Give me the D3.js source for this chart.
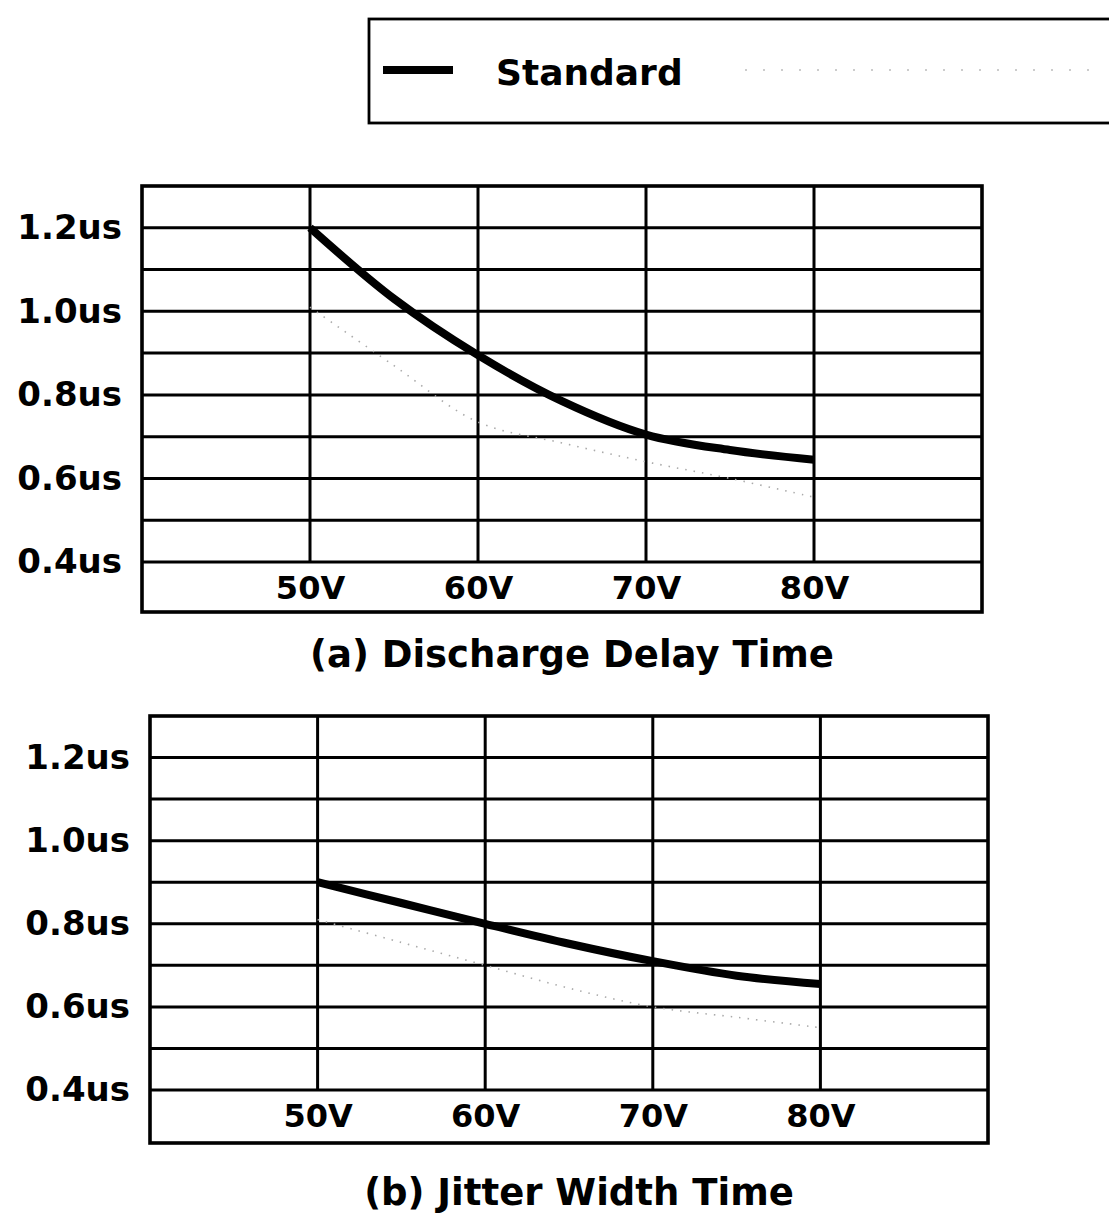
<!DOCTYPE html>
<html>
<head>
<meta charset="utf-8">
<script src="https://cdn.jsdelivr.net/npm/d3@7"></script>
<style>
  body { margin: 0; background: #fff; }
  svg { display: block; }
  text { font-family: "DejaVu Sans", sans-serif; font-weight: bold; fill: #000; }
</style>
</head>
<body>
<div id="chart"></div>
<script>
// values
const voltages = [50, 55, 60, 65, 70, 75, 80];
const delayStandard = [1.2, 1.03, 0.895, 0.785, 0.705, 0.668, 0.645];
const delayFaint = [1.01, 0.87, 0.735, 0.685, 0.64, 0.60, 0.555];
const jitterStandard = [0.9, 0.85, 0.8, 0.752, 0.71, 0.675, 0.655];
const jitterFaint = [0.81, 0.755, 0.70, 0.645, 0.60, 0.575, 0.55];
const xTicks = [50, 60, 70, 80];
const yTicks = [0.4, 0.6, 0.8, 1.0, 1.2];
const yGrid = [0.5, 0.6, 0.7, 0.8, 0.9, 1.0, 1.1, 1.2];
const legendLabels = ["Standard"];
const titles = ["(a) Discharge Delay Time", "(b) Jitter Width Time"];

const width = 1109, height = 1214;

const svg = d3.select("#chart").append("svg")
  .attr("width", width)
  .attr("height", height);

// legend
const legend = svg.append("g");
legend.append("rect")
  .attr("x", 369).attr("y", 19)
  .attr("width", 760).attr("height", 104)
  .attr("fill", "none")
  .attr("stroke", "#000")
  .attr("stroke-width", 2.8);
legend.append("line")
  .attr("x1", 383).attr("x2", 453)
  .attr("y1", 70).attr("y2", 70)
  .attr("stroke", "#000")
  .attr("stroke-width", 8);
legend.append("text")
  .attr("x", 496).attr("y", 85)
  .attr("font-size", 36)
  .text(legendLabels[0]);
legend.append("line")
  .attr("x1", 745).attr("x2", 1090)
  .attr("y1", 70).attr("y2", 70)
  .attr("stroke", "#ccc")
  .attr("stroke-width", 2)
  .attr("stroke-dasharray", "2,16");

function panel(box, std, faint, title, labelX, titleY) {
  const x = d3.scaleLinear().domain([40, 90]).range([box.x0, box.x1]);
  const y = d3.scaleLinear().domain([0.4, 1.3]).range([box.yb, box.y0]);
  const g = svg.append("g");

  // horizontal grid
  g.append("g")
    .selectAll("line")
    .data(yGrid)
    .join("line")
      .attr("x1", box.x0).attr("x2", box.x1)
      .attr("y1", d => y(d)).attr("y2", d => y(d))
      .attr("stroke", "#000")
      .attr("stroke-width", 3);

  // bottom line of the plot (0.4)
  g.append("line")
    .attr("x1", box.x0).attr("x2", box.x1)
    .attr("y1", y(0.4)).attr("y2", y(0.4))
    .attr("stroke", "#000")
    .attr("stroke-width", 3);

  // vertical grid
  g.append("g")
    .selectAll("line")
    .data(xTicks)
    .join("line")
      .attr("x1", d => x(d)).attr("x2", d => x(d))
      .attr("y1", box.y0).attr("y2", y(0.4))
      .attr("stroke", "#000")
      .attr("stroke-width", 3);

  // frame
  g.append("rect")
    .attr("x", box.x0).attr("y", box.y0)
    .attr("width", box.x1 - box.x0).attr("height", box.y1 - box.y0)
    .attr("fill", "none")
    .attr("stroke", "#000")
    .attr("stroke-width", 3.6);

  const line = d3.line()
    .curve(d3.curveCatmullRom.alpha(0.5))
    .x((d, i) => x(voltages[i]))
    .y(d => y(d));

  g.append("path")
    .datum(faint)
    .attr("fill", "none")
    .attr("stroke", "#aaa")
    .attr("stroke-width", 1.6)
    .attr("stroke-dasharray", "1.5,7")
    .attr("d", line);

  g.append("path")
    .datum(std)
    .attr("fill", "none")
    .attr("stroke", "#000")
    .attr("stroke-width", 8)
    .attr("d", line);

  // y axis labels
  g.append("g")
    .attr("transform", `translate(${labelX},0)`)
    .call(d3.axisLeft(y).tickValues(yTicks).tickSize(0).tickPadding(0)
      .tickFormat(d => d.toFixed(1) + "us"))
    .call(a => a.select(".domain").remove())
    .call(a => a.selectAll("text")
      .attr("font-size", 34)
      .attr("font-family", "DejaVu Sans, sans-serif")
      .attr("font-weight", "bold")
      .attr("fill", "#000"));

  // x axis labels
  g.append("g")
    .attr("transform", `translate(0,${y(0.4)})`)
    .call(d3.axisBottom(x).tickValues(xTicks).tickSize(0).tickPadding(14)
      .tickFormat(d => d + "V"))
    .call(a => a.select(".domain").remove())
    .call(a => a.selectAll("text")
      .attr("font-size", 32)
      .attr("font-family", "DejaVu Sans, sans-serif")
      .attr("font-weight", "bold")
      .attr("fill", "#000"));

  g.append("text")
    .attr("x", (box.x0 + box.x1) / 2 + 10)
    .attr("y", titleY)
    .attr("text-anchor", "middle")
    .attr("font-size", 37)
    .text(title);
}

panel({x0: 142, x1: 982, y0: 186, y1: 612, yb: 562}, delayStandard, delayFaint, titles[0], 122, 667);
panel({x0: 150, x1: 988, y0: 716, y1: 1143, yb: 1090}, jitterStandard, jitterFaint, titles[1], 130, 1205);
</script>
</body>
</html>
